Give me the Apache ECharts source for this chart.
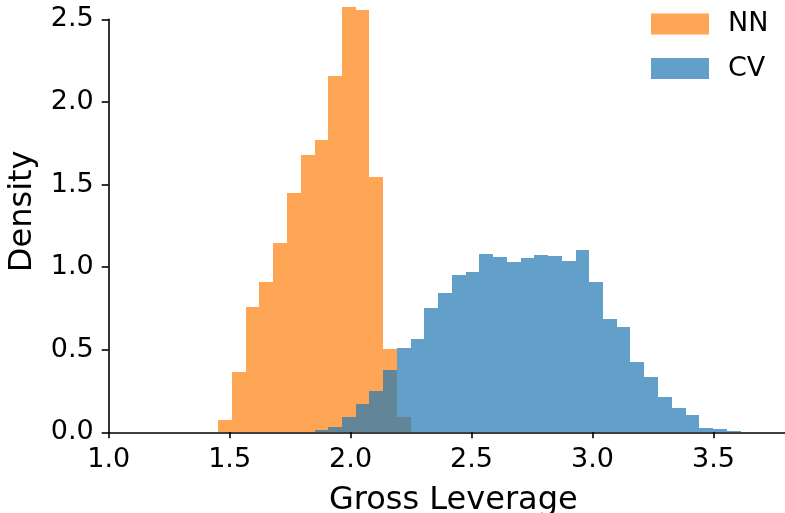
<!DOCTYPE html>
<html>
<head>
<meta charset="utf-8">
<script src="https://cdn.jsdelivr.net/npm/echarts@6/dist/echarts.min.js"></script>
<style>html,body{margin:0;padding:0;background:#fff;}#c{width:785px;height:513px;}</style>
</head>
<body>
<div id="c"></div>
<script>
// Histogram bin edges (shared by both series)
const binEdges = [1.453, 1.510, 1.567, 1.623, 1.680, 1.737, 1.794, 1.851, 1.908, 1.964,
  2.021, 2.078, 2.135, 2.192, 2.248, 2.305, 2.362, 2.419, 2.476, 2.532,
  2.589, 2.646, 2.703, 2.760, 2.816, 2.873, 2.930, 2.987, 3.044, 3.101,
  3.157, 3.214, 3.271, 3.328, 3.385, 3.441, 3.498, 3.555, 3.612];
// Density per bin
const nnDensity = [0.075, 0.367, 0.757, 0.910, 1.144, 1.450, 1.679, 1.771, 2.157, 2.572,
  2.556, 1.543, 0.502, 0.091, 0, 0, 0, 0, 0, 0,
  0, 0, 0, 0, 0, 0, 0, 0, 0, 0,
  0, 0, 0, 0, 0, 0, 0, 0];
const cvDensity = [0, 0, 0, 0, 0, 0, 0.004, 0.014, 0.031, 0.090,
  0.173, 0.252, 0.375, 0.508, 0.565, 0.750, 0.841, 0.950, 0.970, 1.079,
  1.063, 1.031, 1.057, 1.073, 1.069, 1.035, 1.102, 0.908, 0.684, 0.636,
  0.427, 0.337, 0.214, 0.145, 0.104, 0.024, 0.018, 0.007];
const seriesNames = ['NN', 'CV'];
const xTicks = [1.0, 1.5, 2.0, 2.5, 3.0, 3.5];
const yTicks = [0.0, 0.5, 1.0, 1.5, 2.0, 2.5];

const colors = ['rgba(255,127,14,0.7)', 'rgba(31,119,180,0.7)'];
const FONT = 'DejaVu Sans';

function binData(vals) {
  const out = [];
  for (let i = 0; i < vals.length; i++) {
    if (vals[i] > 0) out.push([binEdges[i], binEdges[i + 1], vals[i]]);
  }
  return out;
}
function makeSeries(name, vals, color) {
  return {
    type: 'custom', name: name, clip: false,
    itemStyle: { color: color },
    encode: { x: [0, 1], y: 2 },
    data: binData(vals),
    renderItem: function (params, api) {
      const p0 = api.coord([api.value(0), api.value(2)]);
      const p1 = api.coord([api.value(1), 0]);
      const x0 = Math.round(p0[0]), x1 = Math.round(p1[0]);
      const y0 = Math.round(p0[1]), y1 = Math.round(p1[1]);
      return { type: 'rect',
        shape: { x: x0, y: y0, width: x1 - x0, height: y1 - y0 },
        style: { fill: color } };
    }
  };
}

const chart = echarts.init(document.getElementById('c'), null, { renderer: 'canvas' });
chart.setOption({
  animation: false,
  backgroundColor: '#fff',
  textStyle: { fontFamily: FONT },
  grid: { left: 108.7, right: -1, top: 19.3, bottom: 80.7, containLabel: false, outerBoundsMode: 'none' },
  legend: {
    orient: 'vertical', left: 646, top: 5.4, icon: 'rect',
    itemWidth: 58, itemHeight: 21, itemGap: 17.6,
    data: seriesNames,
    textStyle: { fontFamily: FONT, fontSize: 27, lineHeight: 21, color: '#000', padding: [0, 0, 0, 14] }
  },
  xAxis: {
    type: 'value', min: 1.0, max: 3.8,
    name: 'Gross Leverage', nameLocation: 'middle', nameGap: 52,
    nameTextStyle: { fontFamily: FONT, fontSize: 32, color: '#000', padding: [0, 0, 0, 12] },
    axisLine: { show: true, onZero: false, lineStyle: { color: '#000', width: 1.6 } },
    axisTick: { show: true, length: 6, customValues: xTicks, lineStyle: { color: '#000', width: 1.6 } },
    axisLabel: { customValues: xTicks, margin: 14, fontFamily: FONT, fontSize: 27, color: '#000',
      formatter: v => v.toFixed(1) },
    splitLine: { show: false }
  },
  yAxis: {
    type: 'value', min: 0, max: 2.5, interval: 0.5,
    name: 'Density', nameLocation: 'middle', nameGap: 70,
    nameTextStyle: { fontFamily: FONT, fontSize: 32, color: '#000', padding: [0, 0, 0, 29] },
    axisLine: { show: true, lineStyle: { color: '#000', width: 1.6 } },
    axisTick: { show: true, length: 7, customValues: yTicks, lineStyle: { color: '#000', width: 1.6 } },
    axisLabel: { customValues: yTicks, margin: 15, fontFamily: FONT, fontSize: 27, color: '#000',
      formatter: v => v.toFixed(1) },
    splitLine: { show: false }
  },
  series: [
    makeSeries(seriesNames[0], nnDensity, colors[0]),
    makeSeries(seriesNames[1], cvDensity, colors[1])
  ]
});
</script>
</body>
</html>
